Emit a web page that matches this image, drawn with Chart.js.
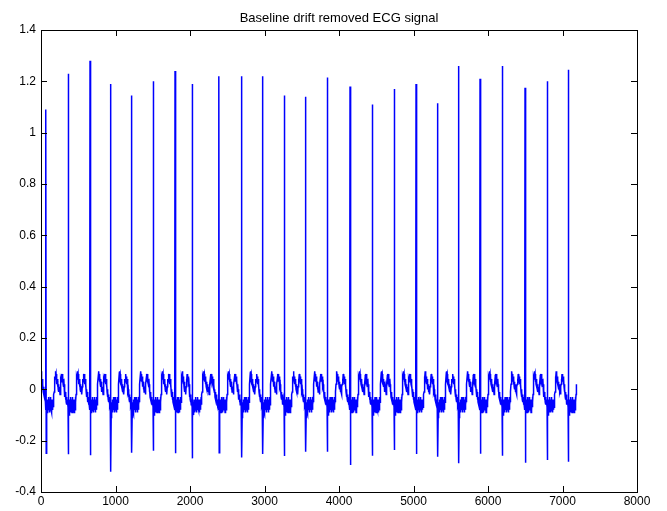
<!DOCTYPE html>
<html>
<head>
<meta charset="utf-8">
<script src="https://cdn.jsdelivr.net/npm/chart.js@4.4.1/dist/chart.umd.min.js"></script>
<style>
  html, body { margin: 0; padding: 0; background: #fff; }
</style>
</head>
<body>
<canvas id="ecgChart" width="667" height="511"></canvas>
<script>
// Values
const titleText = 'Baseline drift removed ECG signal';
const xTicks = [0, 1000, 2000, 3000, 4000, 5000, 6000, 7000, 8000];
const yTicks = [-0.4, -0.2, 0, 0.2, 0.4, 0.6, 0.8, 1, 1.2, 1.4];

// sample index of each R peak, its height and the S dip that follows
const rPositions = [67, 366, 658, 936, 1217, 1507, 1799, 2031, 2389, 2694, 2976, 3266, 3553,
                    3843, 4148, 4447, 4742, 5034, 5325, 5607, 5893, 6192, 6497, 6796, 7078];
const rPeaks = [1.09, 1.23, 1.28, 1.19, 1.145, 1.20, 1.24, 1.19, 1.22, 1.22, 1.22, 1.145, 1.14,
                1.215, 1.18, 1.11, 1.17, 1.19, 1.115, 1.26, 1.21, 1.26, 1.175, 1.20, 1.245];
const sDips = [-0.249, -0.253, -0.257, -0.321, -0.247, -0.239, -0.249, -0.269, -0.247, -0.266,
               -0.252, -0.26, -0.243, -0.243, -0.295, -0.259, -0.236, -0.252, -0.263, -0.288,
               -0.251, -0.259, -0.286, -0.275, -0.282];

// one beat after the QRS (offsets in samples for a 290-sample beat), noisy as in the picture
const beatOffsets = [6, 8, 10, 12, 14, 16, 18, 20, 22, 24, 26, 28, 30, 32, 34, 36, 38, 40, 42, 44,
                     46, 48, 50, 52, 54, 56, 58, 60, 62, 64, 66, 68, 70, 72, 74, 76, 78, 80, 82, 84,
                     86, 88, 90, 92, 94, 96, 98, 100, 102, 104,
                     107, 111, 115, 119, 123, 127, 131, 135, 139, 143, 147, 151, 155, 159, 163, 167,
                     171, 175, 179, 183, 187, 191, 195, 199, 203, 207, 211, 215, 219, 223, 227, 231,
                     235, 239, 243, 247, 251, 255, 259, 263, 267, 271, 275, 279, 283, 287];
const beatValues = [-0.11, -0.08, -0.10, -0.06, -0.09, -0.05, -0.08, -0.04, -0.07, -0.05,
                    -0.09, -0.06, -0.08, -0.04, -0.07, -0.03, -0.06, -0.05, -0.08, -0.04,
                    -0.07, -0.05, -0.09, -0.06, -0.08, -0.04, -0.06, -0.03, -0.07, -0.05,
                    -0.08, -0.05, -0.07, -0.04, -0.08, -0.06, -0.09, -0.05, -0.07, -0.04,
                    -0.06, -0.05, -0.08, -0.04, -0.07, -0.03, -0.06, -0.04, -0.05, -0.02,
                    -0.01, 0.02, 0.05, 0.04, 0.07, 0.05, 0.06, 0.03, 0.05, 0.02, 0.04, 0.01,
                    0.03, 0.00, 0.02, -0.01, 0.01, -0.01, 0.00, -0.02, 0.01, 0.02, 0.04, 0.03,
                    0.06, 0.04, 0.06, 0.03, 0.05, 0.02, 0.04, 0.01, 0.02, -0.01, 0.00, -0.03,
                    -0.01, -0.04, -0.02, -0.05, -0.03, -0.06, -0.04, -0.06, -0.05, -0.07];

// start of the record, before the first beat
const leadInOffsets = [0, 4, 8, 12, 16, 20, 25, 30, 35, 40, 45, 50, 55, 60];
const leadInValues = [0.07, 0.02, 0.06, 0.01, 0.04, 0.00, 0.02, -0.01, 0.01, -0.02, 0.00, -0.03, -0.02, -0.05];

const qDip = -0.08;
const nominalBeat = 290;
const signalEnd = 7190;

// build the trace
const ecgPoints = [];
leadInOffsets.forEach((off, i) => ecgPoints.push({ x: off, y: leadInValues[i] }));
rPositions.forEach((r, k) => {
    const rr = k < rPositions.length - 1 ? rPositions[k + 1] - r : nominalBeat;
    ecgPoints.push({ x: r - 3, y: qDip });
    ecgPoints.push({ x: r, y: rPeaks[k] });
    ecgPoints.push({ x: r + 3, y: sDips[k] });
    beatOffsets.forEach((off, j) => {
        const xv = r + off * rr / nominalBeat;
        if (xv <= signalEnd) ecgPoints.push({ x: xv, y: beatValues[j] });
    });
});

// MATLAB style box with ticks pointing inwards
const boxFrame = {
    id: 'boxFrame',
    afterDraw(chart) {
        const { ctx, chartArea: a, scales: { x, y } } = chart;
        ctx.save();
        ctx.strokeStyle = '#000';
        ctx.lineWidth = 1;
        ctx.strokeRect(Math.round(a.left) + 0.5, Math.round(a.top) + 0.5,
                       Math.round(a.right - a.left), Math.round(a.bottom - a.top));
        ctx.beginPath();
        x.ticks.forEach(t => {
            const px = Math.round(x.getPixelForValue(t.value)) + 0.5;
            ctx.moveTo(px, a.bottom); ctx.lineTo(px, a.bottom - 6);
            ctx.moveTo(px, a.top); ctx.lineTo(px, a.top + 6);
        });
        y.ticks.forEach(t => {
            const py = Math.round(y.getPixelForValue(t.value)) + 0.5;
            ctx.moveTo(a.left, py); ctx.lineTo(a.left + 6, py);
            ctx.moveTo(a.right, py); ctx.lineTo(a.right - 6, py);
        });
        ctx.stroke();
        ctx.restore();
    }
};

const tickFont = { family: '"Liberation Sans", Arial, sans-serif', size: 12 };

const ctx = document.getElementById('ecgChart').getContext('2d');
const ecgChart = new Chart(ctx, {
    type: 'line',
    data: {
        datasets: [{
            data: ecgPoints,
            borderColor: '#0000ff',
            borderWidth: 1.5,
            pointRadius: 0,
            tension: 0,
            fill: false
        }]
    },
    options: {
        responsive: false,
        animation: false,
        parsing: false,
        normalized: true,
        layout: { padding: { top: 0, right: 30, left: 0, bottom: 0 } },
        plugins: {
            legend: { display: false },
            tooltip: { enabled: false },
            title: {
                display: true,
                text: titleText,
                fullSize: false,
                color: '#000',
                font: { family: tickFont.family, size: 13, weight: 'normal' },
                padding: { top: 11, bottom: 3.4 }
            }
        },
        scales: {
            x: {
                type: 'linear',
                min: 0,
                max: 8000,
                afterBuildTicks: s => { s.ticks = xTicks.map(v => ({ value: v })); },
                afterFit: s => { s.height = 19; },
                ticks: {
                    color: '#000', font: tickFont, padding: 2, autoSkip: false, maxRotation: 0,
                    callback: v => String(v)
                },
                grid: { display: false, drawTicks: false },
                border: { display: false }
            },
            y: {
                type: 'linear',
                min: -0.4,
                max: 1.4,
                afterBuildTicks: s => { s.ticks = yTicks.map(v => ({ value: v })); },
                afterFit: s => { s.width = 41; },
                ticks: {
                    color: '#000', font: tickFont, padding: 5, autoSkip: false,
                    callback: v => String(Number(v.toFixed(1)))
                },
                grid: { display: false, drawTicks: false },
                border: { display: false }
            }
        }
    },
    plugins: [boxFrame]
});
</script>
</body>
</html>
